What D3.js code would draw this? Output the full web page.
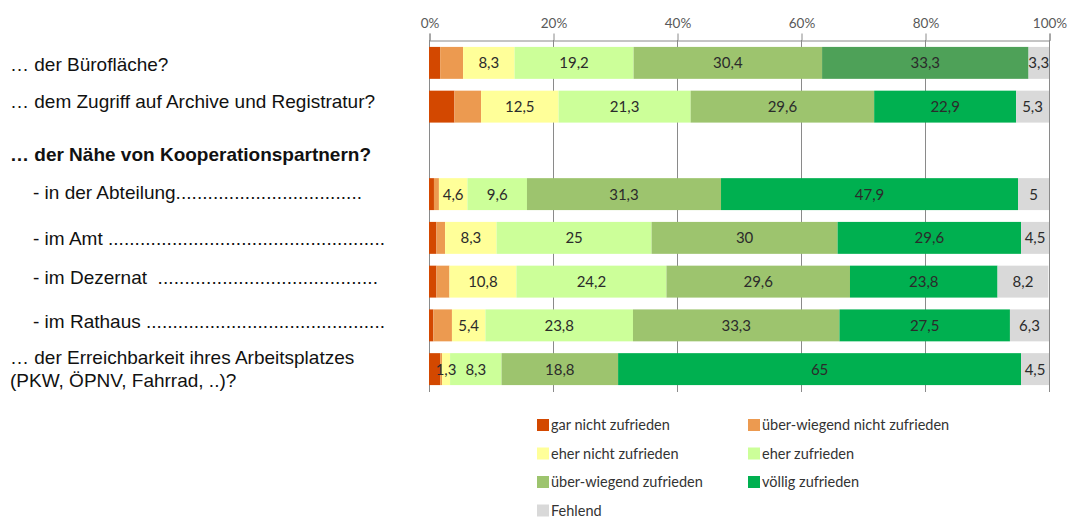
<!DOCTYPE html>
<html><head><meta charset="utf-8">
<script src="https://cdn.jsdelivr.net/npm/d3@7"></script>
<style>html,body{margin:0;padding:0;background:#fff;}svg{display:block;}</style>
</head><body><svg id="c" width="1071" height="517"></svg>
<script>
// ---- data ----
const categories = ["buero", "archiv", "naehe", "abteilung", "amt", "dezernat", "rathaus", "erreich"];
const rowLabels = [
  ["… der Bürofläche?"],
  ["… dem Zugriff auf Archive und Registratur?"],
  ["… der Nähe von Kooperationspartnern?"],
  ["- in der Abteilung"],
  ["- im Amt "],
  ["- im Dezernat  "],
  ["- im Rathaus "],
  ["… der Erreichbarkeit ihres Arbeitsplatzes", "(PKW, ÖPNV, Fahrrad, ..)?"]
];
const rowDots = ["", "", "", "...................................",
  "....................................................",
  ".........................................",
  "............................................."];
const seriesNames = ["gar nicht zufrieden", "über-wiegend nicht zufrieden", "eher nicht zufrieden", "eher zufrieden", "über-wiegend zufrieden", "völlig zufrieden", "Fehlend"];
const garNicht      = [1.8, 4.1, null, 0.8, 1.2, 1.2, 0.7, 1.8];
const ueberwNicht   = [3.7, 4.3, null, 0.8, 1.4, 2.1, 3.0, 0.3];
const eherNicht     = [8.3, 12.5, null, 4.6, 8.3, 10.8, 5.4, 1.3];
const eherZuf       = [19.2, 21.3, null, 9.6, 25, 24.2, 23.8, 8.3];
const ueberwZuf     = [30.4, 29.6, null, 31.3, 30, 29.6, 33.3, 18.8];
const voellig       = [33.3, 22.9, null, 47.9, 29.6, 23.8, 27.5, 65];
const fehlend       = [3.3, 5.3, null, 5, 4.5, 8.2, 6.3, 4.5];
const tickValues = [0, 20, 40, 60, 80, 100];

// ---- styles / layout ----
const colors = ["#d34800", "#ec9a50", "#ffff99", "#ccff99", "#9dc46e", "#00b050", "#d9d9d9"];
const firstRowTopColor = "#4ea158";
const labelFont = "'Liberation Sans', Arial, sans-serif";
const smallFont = "Lato, 'Open Sans', sans-serif";
const labelX = [10, 10, 10, 33, 33, 33, 33, 10];
const labelNudge = [1, -5, 4, -2, 0, -4, -4, 0];
const dotsEnd = [0, 0, 0, 362, 385, 378, 385, 0];

const seriesValues = [garNicht, ueberwNicht, eherNicht, eherZuf, ueberwZuf, voellig, fehlend];
const rows = categories.map((c, i) => {
  const o = {cat: c};
  seriesValues.forEach((s, k) => o["s" + k] = s[i] || 0);
  o.empty = seriesValues.every(s => s[i] == null);
  return o;
});
const keys = seriesValues.map((s, k) => "s" + k);
const stacked = d3.stack().keys(keys)(rows);

const svg = d3.select("#c");
svg.append("rect").attr("width", 1071).attr("height", 517).attr("fill", "#fff");

const x = d3.scaleLinear().domain([0, 100]).range([429, 1049]);
const y = d3.scaleBand().domain(categories).range([41, 391]).paddingInner(0.27).paddingOuter(0.135);

// gridlines
svg.append("g").selectAll("line").data(tickValues).join("line")
  .attr("x1", d => x(d) + 0.5).attr("x2", d => x(d) + 0.5)
  .attr("y1", 40).attr("y2", 392)
  .attr("stroke", "#8a8a8a").attr("stroke-width", 1);

// axis
const axis = svg.append("g").attr("transform", "translate(0.5,40.5)")
  .call(d3.axisTop(x).tickValues(tickValues).tickFormat(d => d + "%").tickSize(7).tickPadding(6));
axis.selectAll("path,line").attr("stroke", "#8a8a8a");
axis.selectAll("text").attr("font-family", smallFont).attr("font-size", 13.5).attr("fill", "#595959");

// bars
const fmt = v => String(v).replace(".", ",");
const segsAll = [];
const barG = svg.append("g");
stacked.forEach((layer, k) => {
  const segs = layer.map((d, i) => ({d, i, k})).filter(o => !rows[o.i].empty && (o.d[1] - o.d[0]) > 0);
  segs.forEach(s => segsAll.push(s));
});
barG.selectAll("rect").data(segsAll).join("rect")
  .attr("x", o => x(o.d[0]))
  .attr("width", o => x(o.d[1]) - x(o.d[0]))
  .attr("y", o => y(categories[o.i]))
  .attr("height", y.bandwidth())
  .attr("fill", o => (o.k === 5 && o.i === 0) ? firstRowTopColor : colors[o.k]);
svg.append("g").selectAll("text").data(segsAll.filter(o => o.k >= 2)).join("text")
  .attr("x", o => (x(o.d[0]) + x(o.d[1])) / 2)
  .attr("y", o => y(categories[o.i]) + y.bandwidth() / 2)
  .attr("dy", "0.36em")
  .attr("text-anchor", "middle")
  .attr("font-family", smallFont).attr("font-size", 15)
  .attr("fill", "#2b2b2b")
  .text(o => fmt(seriesValues[o.k][o.i]));

// row labels
const lg = svg.append("g");
rowLabels.forEach((lines, i) => {
  const cy = y(categories[i]) + y.bandwidth() / 2 + labelNudge[i];
  lines.forEach((ln, j) => {
    const t = lg.append("text")
      .attr("x", labelX[i])
      .attr("y", cy + (j - (lines.length - 1) / 2) * 23)
      .attr("dy", "0.35em")
      .attr("font-family", labelFont).attr("font-size", 19)
      .attr("font-weight", i === 2 ? "bold" : "normal")
      .attr("fill", "#111")
      .style("white-space", "pre")
      .text(ln);
    if (rowDots[i]) {
      const w = t.node().getComputedTextLength();
      lg.append("text")
        .attr("x", labelX[i] + w)
        .attr("y", cy).attr("dy", "0.35em")
        .attr("font-family", labelFont).attr("font-size", 19)
        .attr("fill", "#111")
        .attr("textLength", dotsEnd[i] - labelX[i] - w)
        .attr("lengthAdjust", "spacing")
        .text(rowDots[i]);
    }
  });
});

// legend
const legend = svg.append("g");
seriesNames.forEach((n, k) => {
  const col = k % 2, row = Math.floor(k / 2);
  const lx = col === 0 ? 537 : 748;
  const ly = 425 + row * 28.5;
  legend.append("rect").attr("x", lx).attr("y", ly - 6).attr("width", 12).attr("height", 12).attr("fill", colors[k]);
  legend.append("text").attr("x", lx + 14).attr("y", ly).attr("dy", "0.35em")
    .attr("font-family", smallFont).attr("font-size", 14.5).attr("fill", "#333").text(n);
});
</script></body></html>
